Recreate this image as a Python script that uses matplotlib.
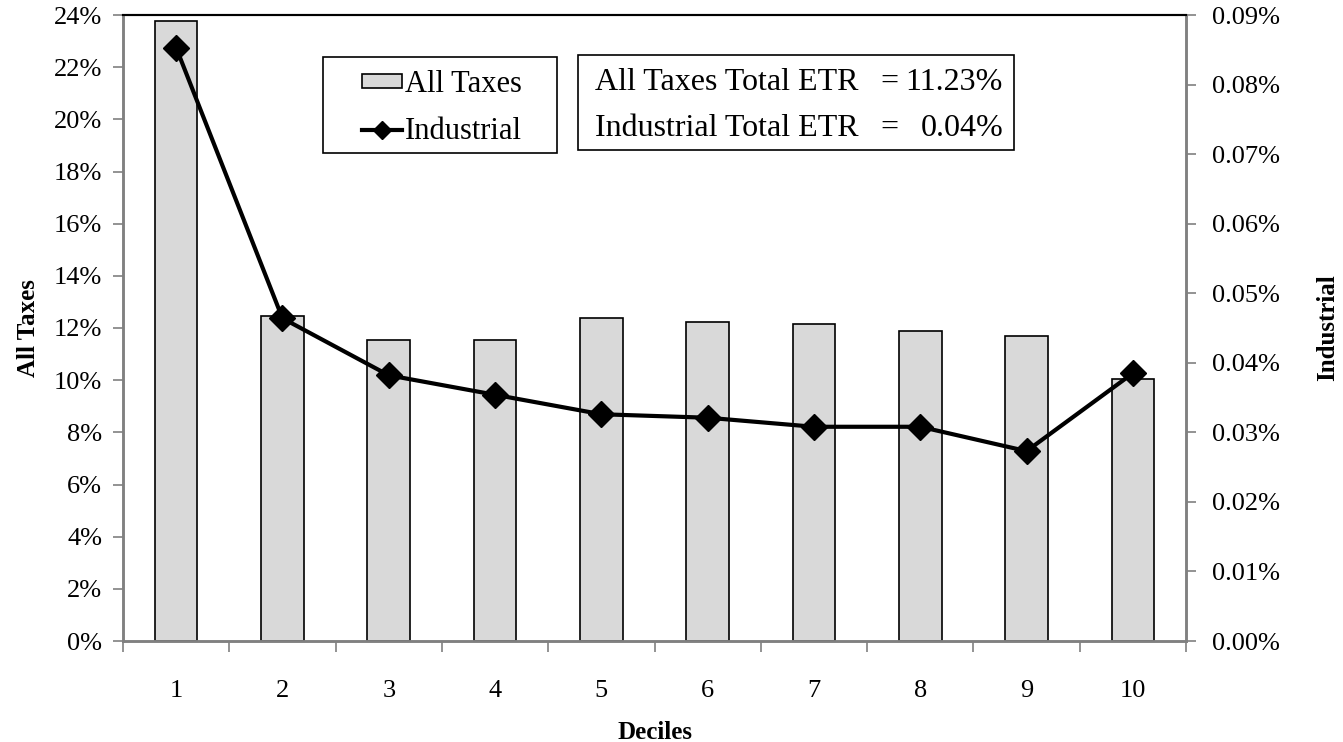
import numpy as np
import matplotlib
matplotlib.use('Agg')
import matplotlib.pyplot as plt
from matplotlib.patches import Rectangle
from matplotlib.ticker import FuncFormatter, FixedLocator

plt.rcParams['font.family'] = ['Liberation Serif', 'DejaVu Serif']

deciles = ['1', '2', '3', '4', '5', '6', '7', '8', '9', '10']
all_taxes = [23.77, 12.46, 11.54, 11.54, 12.38, 12.23, 12.15, 11.89, 11.69, 10.05]   # percent
industrial = [0.0853, 0.0464, 0.0382, 0.0354, 0.0326, 0.0321, 0.0308, 0.0308, 0.0273, 0.0385]  # percent
etr_names = ['All Taxes Total ETR', 'Industrial Total ETR']
etr_values = ['11.23%', '0.04%']

gray = '#808080'
W, H = 1343, 742
fig = plt.figure(figsize=(13.43, 7.42), dpi=100)
ax = fig.add_axes([123/W, 1 - 641/H, (1186-123)/W, (641-15)/H])
x = np.arange(1, len(deciles) + 1)

bars = ax.bar(x, all_taxes, width=0.4, color='#d9d9d9', edgecolor='black', linewidth=1.2,
              label='All Taxes', zorder=2)
ax.set_xlim(0.5, 10.5)
ax.set_ylim(0, 24)
ax.set_yticks(np.arange(0, 25, 2))
ax.yaxis.set_major_formatter(FuncFormatter(lambda v, p: '%d%%' % v))
ax.set_xticks(x)
ax.set_xticklabels(deciles)
ax.xaxis.set_minor_locator(FixedLocator(np.arange(0.5, 11, 1)))
ax.tick_params(axis='x', which='major', length=0, pad=28, labelsize=19)
ax.tick_params(axis='x', which='minor', length=8, color=gray, width=1.2, direction='out')
ax.tick_params(axis='y', length=7, color=gray, width=1.2, labelsize=19, pad=8)
ax.set_ylabel('All Taxes', fontsize=18, fontweight='bold', labelpad=10)
ax.set_xlabel('Deciles', fontsize=18, fontweight='bold', labelpad=14)

ax2 = ax.twinx()
line, = ax2.plot(x, industrial, color='black', linewidth=3, marker='D', markersize=13,
                 label='Industrial', zorder=3)
ax2.set_ylim(0, 0.09)
ax2.set_yticks(np.arange(0, 0.0901, 0.01))
ax2.yaxis.set_major_formatter(FuncFormatter(lambda v, p: '%.2f%%' % v))
ax2.tick_params(axis='y', length=7, color=gray, width=1.2, labelsize=19, pad=12)
ax2.set_ylabel('Industrial', fontsize=18, fontweight='bold', labelpad=26)

for a in (ax, ax2):
    for s in ('left', 'right', 'bottom'):
        a.spines[s].set_color(gray)
        a.spines[s].set_linewidth(1.8)
    a.spines['top'].set_color('black')
    a.spines['top'].set_linewidth(1.5)

def fx(px):
    return px / W

def fy(py):
    return 1 - py / H

# legend box
ax2.add_patch(Rectangle((fx(323), fy(153)), fx(557) - fx(323), fy(57) - fy(153),
                        transform=fig.transFigure, facecolor='white', edgecolor='black',
                        linewidth=1.2, zorder=4, clip_on=False))
leg = ax2.legend([bars, line], ['All Taxes', 'Industrial'], loc='center left',
                 bbox_to_anchor=(fx(362), fy(108)), bbox_transform=fig.transFigure,
                 fontsize=22, frameon=False, handlelength=1.3, handleheight=0.3,
                 handletextpad=0.1, borderpad=0, labelspacing=0.6, borderaxespad=0,
                 markerscale=0.7)
leg.set_zorder(6)

# ETR box
ax2.add_patch(Rectangle((fx(578), fy(150)), fx(1014) - fx(578), fy(55) - fy(150),
                        transform=fig.transFigure, facecolor='white', edgecolor='black',
                        linewidth=1.2, zorder=4, clip_on=False))
for i, ypx in enumerate([82, 128]):
    ax2.text(fx(595), fy(ypx), etr_names[i], transform=fig.transFigure, fontsize=23,
             ha='left', va='center', zorder=5)
    ax2.text(fx(880), fy(ypx), '=', transform=fig.transFigure, fontsize=23,
             ha='left', va='center', zorder=5)
    ax2.text(fx(1003), fy(ypx), etr_values[i], transform=fig.transFigure, fontsize=23,
             ha='right', va='center', zorder=5)

fig.savefig('out.png', dpi=100)
